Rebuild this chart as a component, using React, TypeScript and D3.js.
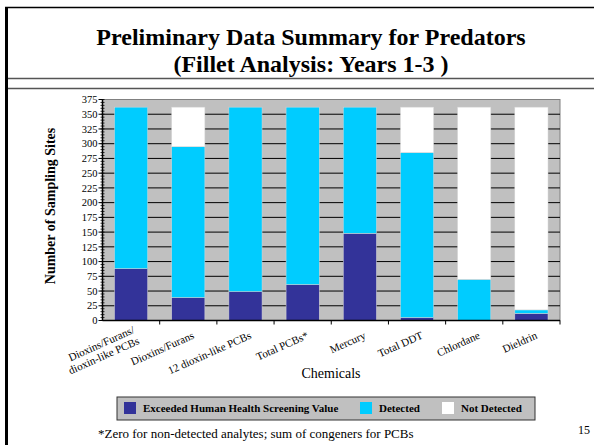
import * as d3 from "d3";

const W = 594;
const H = 445;

const categories = [
  "Dioxins/Furans/\ndioxin-like PCBs",
  "Dioxins/Furans",
  "12 dioxin-like PCBs",
  "Total PCBs*",
  "Mercury",
  "Total DDT",
  "Chlordane",
  "Dieldrin",
];
const exceeded = [88, 39, 49, 61, 148, 5, 0, 12];
const detected = [274, 256, 313, 301, 214, 280, 70, 6];
const notDetected = [0, 67, 0, 0, 0, 77, 292, 344];
const yTicks = d3.range(0, 376, 25);

const seriesKeys = ["exceeded", "detected", "notDetected"];
const seriesNames = ["Exceeded Human Health Screening Value", "Detected", "Not Detected"];
const colors = ["#333399", "#00CCFF", "#FFFFFF"];

const plot = { left: 102.5, right: 560, top: 99.5, bottom: 320.5 };
const serif = "'Liberation Serif', 'Times New Roman', serif";

export default function App() {
  const rows = categories.map((c, i) => ({
    cat: c,
    exceeded: exceeded[i],
    detected: detected[i],
    notDetected: notDetected[i],
  }));
  const stacked = d3.stack<any>().keys(seriesKeys)(rows);

  const x = d3
    .scaleBand()
    .domain(categories)
    .range([plot.left, plot.right])
    .paddingInner(0.42)
    .paddingOuter(0.21);
  const step = x.step();
  const y = d3.scaleLinear().domain([0, 375]).range([plot.bottom, plot.top]);
  const minor = d3.range(0, 376, 5);

  const legendX = [124, 360, 442];

  return (
    <svg width={W} height={H} style={{ position: "absolute", left: 0, top: 0 }} fontFamily={serif}>
      <rect width={W} height={H} fill="#fff" />
      {/* slide frame */}
      <line x1={6.5} y1={7} x2={6.5} y2={H} stroke="#000" strokeWidth={3} />
      <line x1={5} y1={7.5} x2={W} y2={7.5} stroke="#000" strokeWidth={1.5} />
      <line x1={8} y1={78.5} x2={W} y2={78.5} stroke="#555" strokeWidth={1.5} />
      <line x1={8} y1={88.5} x2={W} y2={88.5} stroke="#555" strokeWidth={1.5} />

      <text x={311} y={45} textAnchor="middle" fontSize={24} fontWeight="bold">
        Preliminary Data Summary for Predators
      </text>
      <text x={311} y={72} textAnchor="middle" fontSize={24} fontWeight="bold">
        (Fillet Analysis: Years 1-3 )
      </text>

      {/* plot area */}
      <rect
        x={plot.left}
        y={plot.top}
        width={plot.right - plot.left}
        height={plot.bottom - plot.top}
        fill="#C0C0C0"
        stroke="#808080"
        strokeWidth={1}
      />
      {yTicks.slice(1, -1).map((t) => (
        <line key={t} x1={plot.left} x2={plot.right} y1={y(t)} y2={y(t)} stroke="#000" strokeWidth={1} />
      ))}

      {stacked.map((s, si) =>
        s.map((d, i) => (
          <rect
            key={si + "-" + i}
            x={x(categories[i])}
            width={x.bandwidth()}
            y={y(d[1])}
            height={y(d[0]) - y(d[1])}
            fill={colors[si]}
            stroke="#d8d8d8"
            strokeWidth={0.5}
          />
        ))
      )}

      {/* y axis */}
      <line x1={plot.left} x2={plot.left} y1={plot.top} y2={plot.bottom} stroke="#000" strokeWidth={1.5} />
      {minor.map((t) => (
        <line key={"m" + t} x1={plot.left - 2} x2={plot.left + 2} y1={y(t)} y2={y(t)} stroke="#000" strokeWidth={0.8} />
      ))}
      {yTicks.map((t) => (
        <g key={"t" + t}>
          <line x1={plot.left - 4} x2={plot.left} y1={y(t)} y2={y(t)} stroke="#000" strokeWidth={1} />
          <text x={plot.left - 5} y={y(t)} dy="0.35em" textAnchor="end" fontSize={10.5}>
            {t}
          </text>
        </g>
      ))}
      <text
        transform={`translate(55,${(plot.top + plot.bottom) / 2 - 4}) rotate(-90)`}
        textAnchor="middle"
        fontSize={14}
        fontWeight="bold"
      >
        Number of Sampling Sites
      </text>

      {/* x axis */}
      <line x1={plot.left} x2={plot.right} y1={plot.bottom} y2={plot.bottom} stroke="#000" strokeWidth={1.5} />
      {categories.map((c, i) => (
        <line
          key={"xt" + i}
          x1={plot.left + step * (i + 1)}
          x2={plot.left + step * (i + 1)}
          y1={plot.bottom}
          y2={plot.bottom + 4}
          stroke="#000"
        />
      ))}
      {categories.map((c, i) => {
        const lines = c.split("\n");
        const cx = (x(c) as number) + x.bandwidth() / 2;
        return (
          <text
            key={"xl" + i}
            transform={`translate(${cx + 5},${plot.bottom + 14}) rotate(-24)`}
            textAnchor="end"
            fontSize={11}
          >
            {lines.map((l, j) => (
              <tspan key={j} x={0} y={(j - (lines.length - 1) / 2) * 12} dy="0.35em">
                {l}
              </tspan>
            ))}
          </text>
        );
      })}
      <text x={331} y={378} textAnchor="middle" fontSize={14}>
        Chemicals
      </text>

      {/* legend */}
      <rect x={117} y={397} width={418} height={23} fill="#C0C0C0" stroke="#333" strokeWidth={1} />
      {seriesNames.map((n, i) => (
        <g key={n}>
          <rect x={legendX[i]} y={402} width={12} height={12} fill={colors[i]} />
          <text x={legendX[i] + 19} y={412} fontSize={11} fontWeight="bold">
            {n}
          </text>
        </g>
      ))}

      <text x={98} y={438} fontSize={13}>
        *Zero for non-detected analytes; sum of congeners for PCBs
      </text>
      <text x={578} y={434} fontSize={12}>
        15
      </text>
    </svg>
  );
}
